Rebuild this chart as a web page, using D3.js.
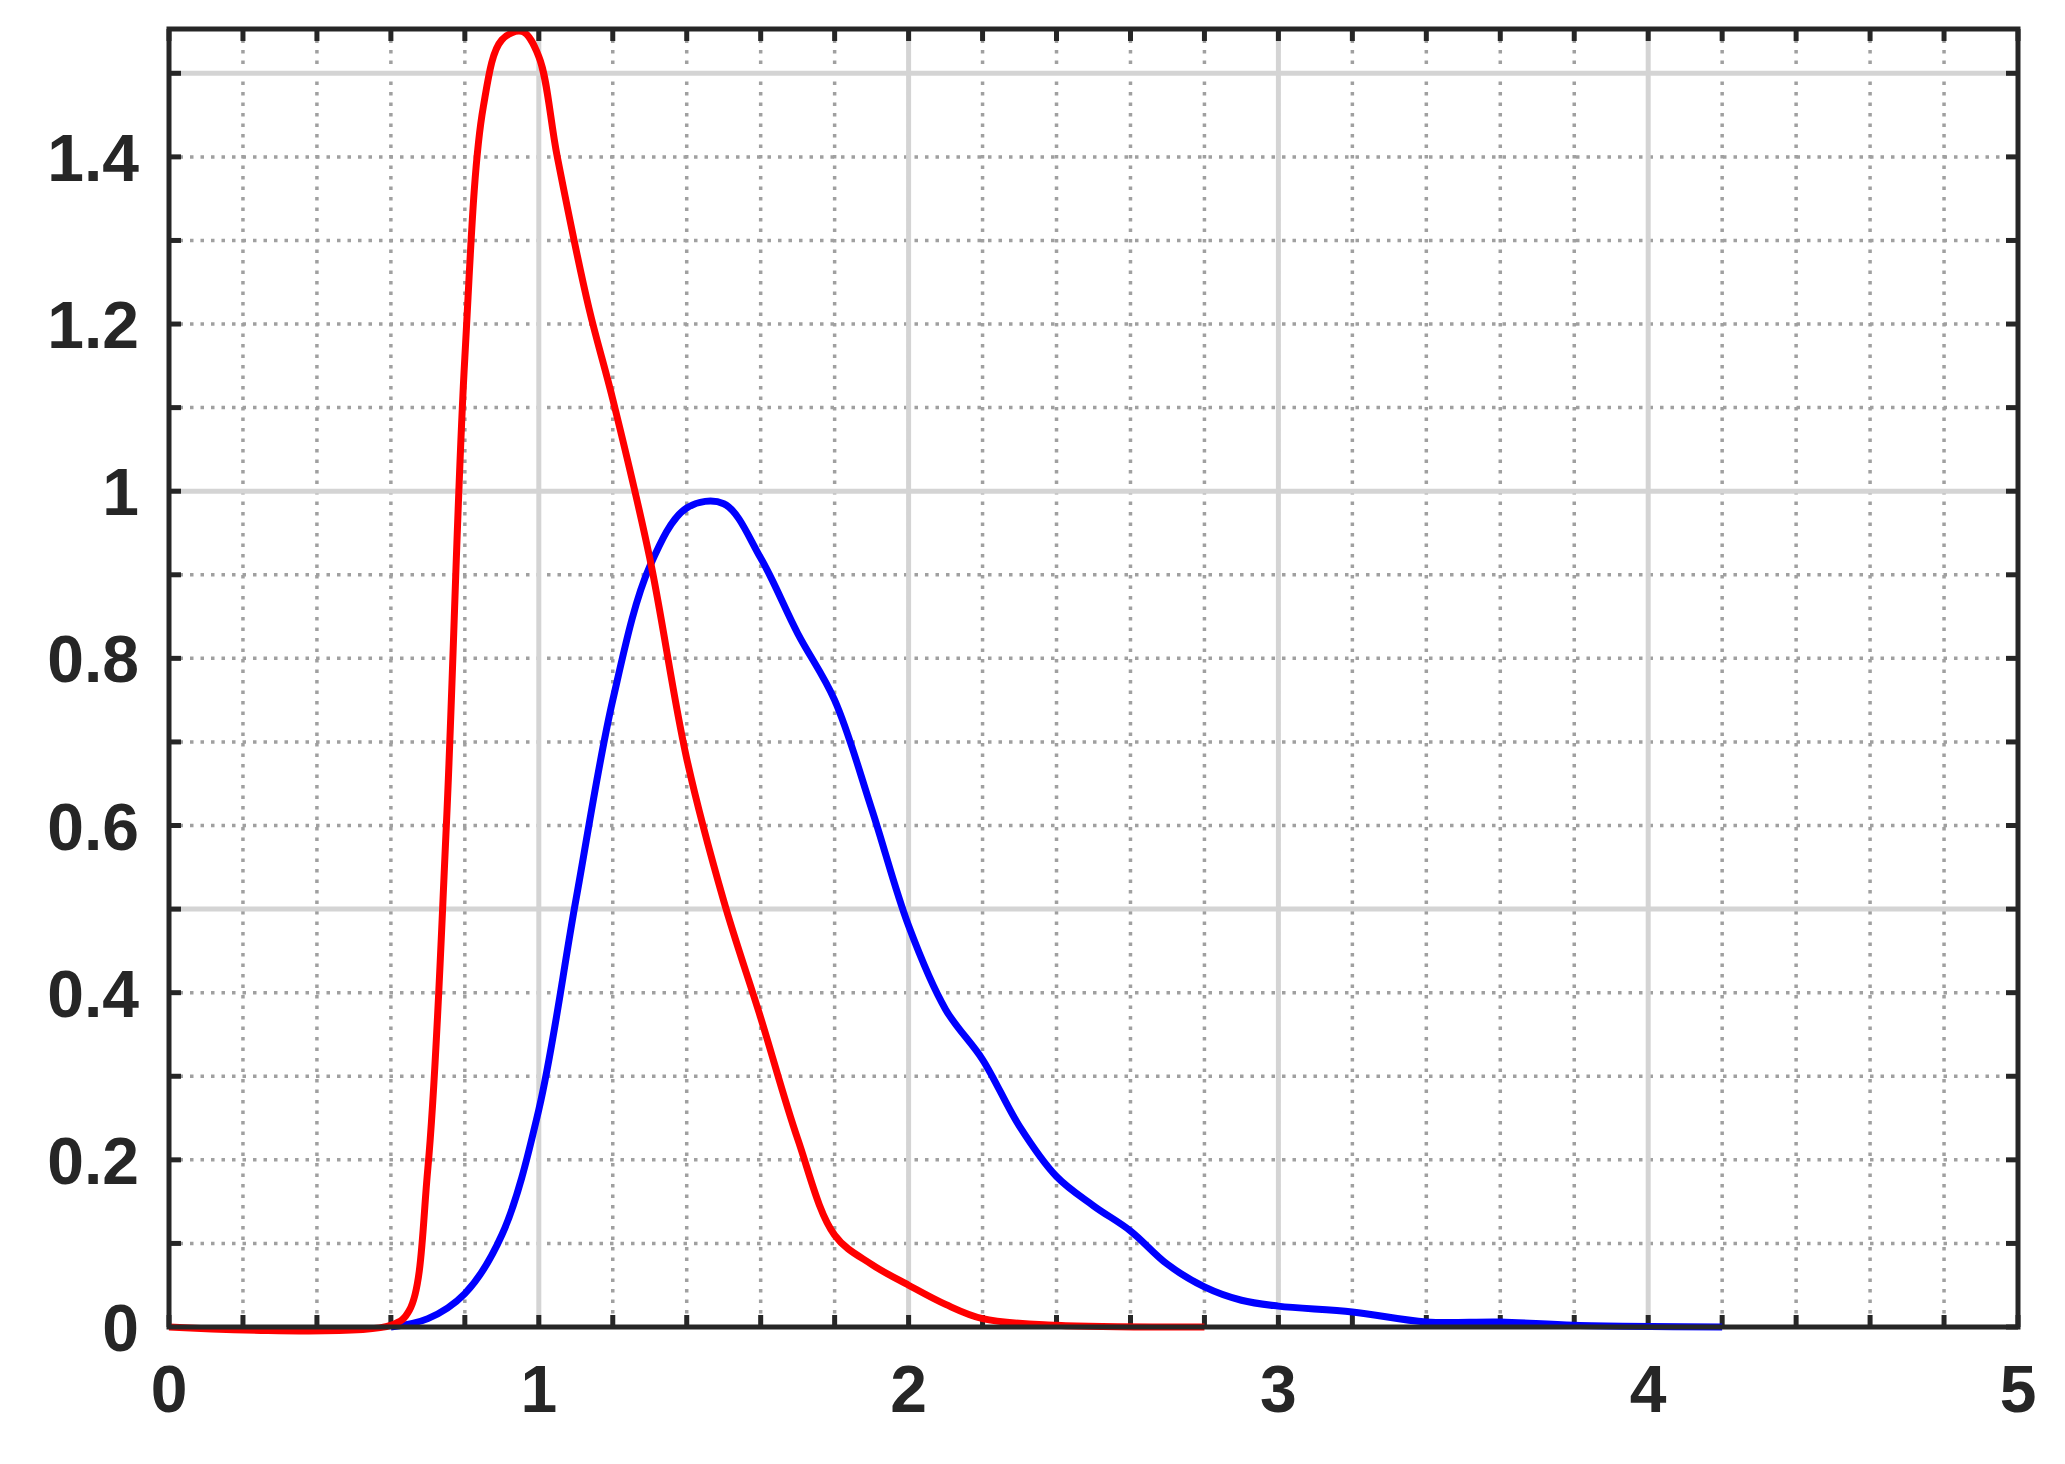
<!DOCTYPE html>
<html><head><meta charset="utf-8">
<script src="https://cdn.jsdelivr.net/npm/d3@7"></script>
<style>body{margin:0;background:#fff}</style>
</head><body>
<svg id="chart" width="2065" height="1464"></svg>
<script>
const redX = [0, 0.6, 0.65, 0.7, 0.75, 0.8, 0.85, 0.9, 0.955, 1.0, 1.05, 1.135, 1.2, 1.3, 1.4, 1.5, 1.6, 1.7, 1.8, 1.9, 2.0, 2.1, 2.2, 2.4, 2.8]
const redY = [0, 0.002, 0.02, 0.19, 0.6, 1.16, 1.46, 1.54, 1.55, 1.52, 1.4, 1.22, 1.11, 0.92, 0.68, 0.51, 0.37, 0.225, 0.11, 0.075, 0.05, 0.027, 0.01, 0.002, 0]
const blueX = [0.6, 0.7, 0.8, 0.9, 1.0, 1.1, 1.2, 1.3, 1.4, 1.5, 1.6, 1.7, 1.8, 1.9, 2.0, 2.1, 2.2, 2.3, 2.4, 2.5, 2.6, 2.7, 2.8, 2.9, 3.0, 3.2, 3.4, 3.6, 3.8, 4.2]
const blueY = [0, 0.01, 0.04, 0.11, 0.26, 0.51, 0.75, 0.91, 0.98, 0.985, 0.92, 0.83, 0.75, 0.62, 0.48, 0.38, 0.32, 0.24, 0.18, 0.145, 0.115, 0.075, 0.048, 0.032, 0.025, 0.018, 0.006, 0.006, 0.002, 0]
const xTicks = [0, 1, 2, 3, 4, 5]
const yTicks = [0, 0.2, 0.4, 0.6, 0.8, 1, 1.2, 1.4]

const m = {left: 169, right: 2018, top: 29, bottom: 1327}
const svg = d3.select('#chart')
const x = d3.scaleLinear().domain([0, 5]).range([m.left, m.right])
const y = d3.scaleLinear().domain([0, 1.553]).range([m.bottom, m.top])
const g = svg.append('g')

// minor dotted grid
g.selectAll('.mx').data(d3.range(0.2, 5, 0.2)).enter().append('line')
    .attr('x1', d => x(d)).attr('x2', d => x(d)).attr('y1', m.top).attr('y2', m.bottom)
    .attr('stroke', '#a0a0a0').attr('stroke-width', 3.5).attr('stroke-dasharray', '3.5,7')
g.selectAll('.my').data(d3.range(0.1, 1.55, 0.1)).enter().append('line')
    .attr('y1', d => y(d)).attr('y2', d => y(d)).attr('x1', m.left).attr('x2', m.right)
    .attr('stroke', '#a0a0a0').attr('stroke-width', 3.5).attr('stroke-dasharray', '3.5,7')
// major grid
g.selectAll('.Mx').data([1, 2, 3, 4]).enter().append('line')
    .attr('x1', d => x(d)).attr('x2', d => x(d)).attr('y1', m.top).attr('y2', m.bottom)
    .attr('stroke', '#d4d4d4').attr('stroke-width', 5)
g.selectAll('.My').data([0.5, 1, 1.5]).enter().append('line')
    .attr('y1', d => y(d)).attr('y2', d => y(d)).attr('x1', m.left).attr('x2', m.right)
    .attr('stroke', '#d4d4d4').attr('stroke-width', 5)

// inward tick marks on all sides
const tl = 12
d3.range(0, 5.01, 0.2).forEach(d => {
    g.append('line').attr('x1', x(d)).attr('x2', x(d)).attr('y1', m.bottom).attr('y2', m.bottom - tl).attr('stroke', '#262626').attr('stroke-width', 5)
    g.append('line').attr('x1', x(d)).attr('x2', x(d)).attr('y1', m.top).attr('y2', m.top + tl).attr('stroke', '#262626').attr('stroke-width', 5)
})
d3.range(0, 1.55, 0.1).forEach(d => {
    g.append('line').attr('y1', y(d)).attr('y2', y(d)).attr('x1', m.left).attr('x2', m.left + tl).attr('stroke', '#262626').attr('stroke-width', 5)
    g.append('line').attr('y1', y(d)).attr('y2', y(d)).attr('x1', m.right).attr('x2', m.right - tl).attr('stroke', '#262626').attr('stroke-width', 5)
})

const line = d3.line().x(d => x(d[0])).y(d => y(d[1])).curve(d3.curveCatmullRom.alpha(0.5))
g.append('path').datum(blueX.map((v, i) => [v, blueY[i]])).attr('d', line)
    .attr('fill', 'none').attr('stroke', '#0000ff').attr('stroke-width', 7)
g.append('path').datum(redX.map((v, i) => [v, redY[i]])).attr('d', line)
    .attr('fill', 'none').attr('stroke', '#ff0000').attr('stroke-width', 7)

g.append('rect').attr('x', m.left).attr('y', m.top).attr('width', m.right - m.left).attr('height', m.bottom - m.top)
    .attr('fill', 'none').attr('stroke', '#262626').attr('stroke-width', 5)

const font = "'Liberation Sans Narrow', 'Liberation Sans', Arial, sans-serif"
g.selectAll('.xl').data(xTicks).enter().append('text')
    .attr('x', d => x(d)).attr('y', m.bottom + 85).attr('text-anchor', 'middle')
    .style('font-family', font).style('font-weight', 'bold').style('font-size', '66px').attr('fill', '#262626')
    .text(d => d)
g.selectAll('.yl').data(yTicks).enter().append('text')
    .attr('x', m.left - 30).attr('y', d => y(d) + 24).attr('text-anchor', 'end')
    .style('font-family', font).style('font-weight', 'bold').style('font-size', '66px').attr('fill', '#262626')
    .text(d => d)
</script>
</body></html>
